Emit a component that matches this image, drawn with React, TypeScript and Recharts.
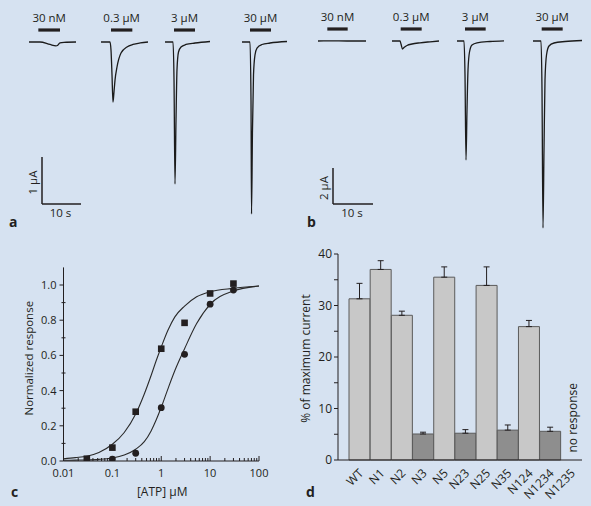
import React from 'react';
import {
  LineChart, Line, XAxis, YAxis, ReferenceLine, ReferenceDot,
  ComposedChart, Scatter, BarChart, Bar, Cell, ErrorBar,
} from 'recharts';

const FONT = '"Open Sans", "Noto Sans", "DejaVu Sans", sans-serif';
const INK = '#231f20';
const BG = '#d6e2f1';

// ---------------- Panel a (time s, current µA) ----------------
const aTrace30nM = [
  { t: 7.44, i: 0 }, { t: 10.26, i: 0 }, { t: 12.82, i: -0.053 }, { t: 14.36, i: -0.081 },
  { t: 14.74, i: -0.074 }, { t: 15.38, i: -0.017 }, { t: 16.41, i: -0.006 }, { t: 19.49, i: 0 },
];
const aTrace03uM = [
  { t: 25.9, i: 0 }, { t: 28.2, i: 0 }, { t: 28.46, i: -0.17 }, { t: 28.72, i: -0.7 },
  { t: 28.97, i: -1.277 }, { t: 29.23, i: -1.064 }, { t: 29.49, i: -0.81 }, { t: 30.0, i: -0.532 },
  { t: 31.03, i: -0.234 }, { t: 32.56, i: -0.106 }, { t: 34.1, i: -0.053 }, { t: 36.0, i: -0.02 },
  { t: 37.95, i: 0 },
];
const aTrace3uM = [
  { t: 42.31, i: 0 }, { t: 44.36, i: 0 }, { t: 44.62, i: -0.809 }, { t: 44.87, i: -3.021 },
  { t: 45.13, i: -1.66 }, { t: 45.38, i: -0.596 }, { t: 45.77, i: -0.213 }, { t: 46.41, i: -0.106 },
  { t: 47.69, i: -0.053 }, { t: 50.0, i: -0.021 }, { t: 53.85, i: 0.011 },
];
const aTrace30uM = [
  { t: 62.05, i: 0 }, { t: 64.1, i: 0 }, { t: 64.36, i: -1.234 }, { t: 64.49, i: -3.66 },
  { t: 64.74, i: -1.872 }, { t: 65.0, i: -0.702 }, { t: 65.38, i: -0.277 }, { t: 65.9, i: -0.128 },
  { t: 67.18, i: -0.053 }, { t: 69.23, i: -0.021 }, { t: 73.59, i: 0.011 },
];
const aApplications = [
  { label: '30 nM', t0: 9.83, t1: 15.38 },
  { label: '0.3 µM', t0: 28.46, t1: 33.93 },
  { label: '3 µM', t0: 44.62, t1: 50.0 },
  { label: '30 µM', t0: 64.1, t1: 69.49 },
];
const aBarLevel = 0.255;
const aScale = { t0: 10.77, i0: -3.447, dt: 10, di: 1, tLabel: '10 s', iLabel: '1 µA' };

// ---------------- Panel b ----------------
const bTrace30nM = [
  { t: 5.75, i: 0 }, { t: 9.0, i: 0.005 }, { t: 13.0, i: 0 }, { t: 17.75, i: 0 },
];
const bTrace03uM = [
  { t: 24.25, i: 0 }, { t: 26.25, i: 0 }, { t: 26.5, i: -0.167 }, { t: 26.875, i: -0.444 },
  { t: 27.25, i: -0.361 }, { t: 28.0, i: -0.25 }, { t: 29.25, i: -0.167 }, { t: 31.25, i: -0.1 },
  { t: 33.75, i: -0.044 }, { t: 36.0, i: 0 },
];
const bTrace3uM = [
  { t: 40.5, i: 0 }, { t: 42.25, i: 0 }, { t: 42.5, i: -1.889 }, { t: 42.75, i: -6.611 },
  { t: 43.0, i: -3.833 }, { t: 43.25, i: -1.611 }, { t: 43.625, i: -0.611 }, { t: 44.25, i: -0.222 },
  { t: 45.5, i: -0.1 }, { t: 48.75, i: -0.028 }, { t: 52.25, i: 0.011 },
];
const bTrace30uM = [
  { t: 59.5, i: 0 }, { t: 61.5, i: 0 }, { t: 61.75, i: -2.722 }, { t: 62.0, i: -10.389 },
  { t: 62.25, i: -6.056 }, { t: 62.5, i: -2.167 }, { t: 62.875, i: -0.778 }, { t: 63.5, i: -0.278 },
  { t: 64.75, i: -0.111 }, { t: 67.5, i: -0.028 }, { t: 71.75, i: 0.028 },
];
const bApplications = [
  { label: '30 nM', t0: 8.08, t1: 13.17 },
  { label: '0.3 µM', t0: 26.42, t1: 31.67 },
  { label: '3 µM', t0: 42.5, t1: 47.67 },
  { label: '30 µM', t0: 61.67, t1: 66.92 },
];
const bBarLevel = 0.667;
const bScale = { t0: 9.5, i0: -9.056, dt: 10, di: 2, tLabel: '10 s', iLabel: '2 µA' };

// ---------------- Panel c (concentration-response) ----------------
const cSquareX = [0.03, 0.1, 0.3, 1, 3, 10, 30];
const cSquareY = [0.013, 0.076, 0.28, 0.638, 0.785, 0.952, 1.008];
const cCircleX = [0.1, 0.3, 1, 3, 10, 30];
const cCircleY = [0.011, 0.044, 0.303, 0.606, 0.891, 0.971];
const cFitX = [0.01, 0.0175, 0.03, 0.053, 0.1, 0.175, 0.3, 0.45, 0.62, 0.79, 1, 1.37, 1.9, 3, 5.3, 10, 30, 100];
const cFitSquareY = [0.012, 0.019, 0.027, 0.048, 0.095, 0.162, 0.267, 0.381, 0.486, 0.571, 0.648, 0.743, 0.819, 0.88, 0.933, 0.962, 0.981, 0.994];
const cFitCircleY = [0.004, 0.005, 0.006, 0.009, 0.017, 0.034, 0.067, 0.11, 0.171, 0.234, 0.305, 0.41, 0.514, 0.638, 0.781, 0.89, 0.966, 0.994];
const cXTicks = [
  0.01, 0.02, 0.03, 0.04, 0.05, 0.06, 0.07, 0.08, 0.09,
  0.1, 0.2, 0.3, 0.4, 0.5, 0.6, 0.7, 0.8, 0.9,
  1, 2, 3, 4, 5, 6, 7, 8, 9,
  10, 20, 30, 40, 50, 60, 70, 80, 90, 100,
];
const cXMajor = [0.01, 0.1, 1, 10, 100];
const cYTicks = [0, 0.1, 0.2, 0.3, 0.4, 0.5, 0.6, 0.7, 0.8, 0.9, 1.0];
const cYMajor = [0, 0.2, 0.4, 0.6, 0.8, 1.0];

// ---------------- Panel d (mutants) ----------------
const dCategories = ['WT', 'N1', 'N2', 'N3', 'N5', 'N23', 'N25', 'N35', 'N124', 'N1234', 'N1235'];
const dValues = [31.3, 37.0, 28.1, 5.05, 35.5, 5.2, 33.9, 5.8, 25.9, 5.57, null];
const dErrors = [3.0, 1.7, 0.8, 0.35, 2.0, 0.7, 3.6, 1.0, 1.2, 0.8, null];
const dDark = [false, false, false, true, false, true, false, true, false, true, false];
const dYTicks = [0, 5, 10, 15, 20, 25, 30, 35, 40];

const toPts = (xs: number[], ys: number[]) => xs.map((x, k) => ({ x, y: ys[k] }));
const cSquares = toPts(cSquareX, cSquareY);
const cCircles = toPts(cCircleX, cCircleY);
const cFitSquares = toPts(cFitX, cFitSquareY);
const cFitCircles = toPts(cFitX, cFitCircleY);
const dData = dCategories.map((name, k) => ({
  name,
  value: dValues[k],
  err: dErrors[k] == null ? null : [0, dErrors[k]],
  dark: dDark[k],
}));

const textProps = { fill: INK, fontFamily: FONT };

const rotatedText = (text: string, x: number, y: number, size: number) => (
  <text x={x} y={y} transform={`rotate(-90 ${x} ${y})`} textAnchor="middle"
    dominantBaseline="central" fontSize={size} {...textProps}>{text}</text>
);

function TracePanel(props: any) {
  const { left, width, height, tMax, iMin, iMax, traces, apps, level, scale } = props;
  return (
    <div style={{ position: 'absolute', left, top: 0 }}>
      <LineChart width={width} height={height} margin={{ top: 0, right: 0, bottom: 0, left: 0 }}>
        <XAxis type="number" dataKey="t" domain={[0, tMax]} allowDataOverflow hide />
        <YAxis type="number" dataKey="i" domain={[iMin, iMax]} allowDataOverflow hide />
        {traces.map((tr: any[], k: number) => (
          <Line key={k} data={tr} dataKey="i" type="monotone" stroke="#1b1b1b"
            strokeWidth={1.3} dot={false} isAnimationActive={false} />
        ))}
        {apps.map((a: any) => (
          <ReferenceLine key={a.label} segment={[{ x: a.t0, y: level }, { x: a.t1, y: level }]}
            stroke={INK} strokeWidth={3.2}
            label={{ value: a.label, position: 'top', offset: 8, fontSize: 11.5, ...textProps }} />
        ))}
        <ReferenceLine
          segment={[{ x: scale.t0, y: scale.i0 + scale.di }, { x: scale.t0, y: scale.i0 }]}
          stroke={INK} strokeWidth={1.5}
          label={{
            content: (p: any) => rotatedText(scale.iLabel, p.viewBox.x - 9, p.viewBox.y + p.viewBox.height / 2 + 2, 11.5),
          }} />
        <ReferenceLine
          segment={[{ x: scale.t0, y: scale.i0 }, { x: scale.t0 + scale.dt, y: scale.i0 }]}
          stroke={INK} strokeWidth={1.5}
          label={{
            content: (p: any) => (
              <text x={p.viewBox.x + p.viewBox.width / 2 - 1} y={p.viewBox.y + 13} textAnchor="middle"
                fontSize={11.5} {...textProps}>{scale.tLabel}</text>
            ),
          }} />
      </LineChart>
    </div>
  );
}

const CXTick = (props: any) => {
  const { x, y, payload } = props;
  const major = cXMajor.includes(payload.value);
  return (
    <g>
      <line x1={x} x2={x} y1={y} y2={y - (major ? 5 : 3)} stroke={INK} strokeWidth={1} />
      {major && (
        <text x={x} y={y + 15.5} textAnchor="middle" fontSize={11} {...textProps}>{String(payload.value)}</text>
      )}
    </g>
  );
};

const CYTick = (props: any) => {
  const { x, y, payload } = props;
  const major = cYMajor.some((m) => Math.abs(m - payload.value) < 1e-6);
  return (
    <g>
      <line x1={major ? x - 4 : x - 2} x2={major ? x : x + 2} y1={y} y2={y} stroke={INK} strokeWidth={1} />
      {major && (
        <text x={x - 7} y={y + 4} textAnchor="end" fontSize={11} {...textProps}>{payload.value.toFixed(1)}</text>
      )}
    </g>
  );
};

const DXTick = (props: any) => {
  const { x, y, payload } = props;
  const ax = x + 4.5;
  const ay = y + 14;
  return (
    <text x={ax} y={ay} transform={`rotate(-45 ${ax} ${ay})`} textAnchor="end" fontSize={12} {...textProps}>
      {payload.value}
    </text>
  );
};

const DYTick = (props: any) => {
  const { x, y, payload } = props;
  if (payload.value % 10 !== 0) return <g />;
  return (
    <text x={x} y={y + 4} textAnchor="end" fontSize={12} {...textProps}>{payload.value}</text>
  );
};

const square = (p: any) => <rect x={p.cx - 3.3} y={p.cy - 3.3} width={6.6} height={6.6} fill={INK} />;
const circle = (p: any) => <circle cx={p.cx} cy={p.cy} r={3.4} fill={INK} />;

export default function App() {
  return (
    <div style={{ position: 'absolute', left: 0, top: 0, width: 591, height: 506, background: BG, overflow: 'hidden', fontFamily: FONT }}>
      <TracePanel left={0} width={295} height={240} tMax={295 / 3.9} iMin={-(240 - 42) / 47} iMax={42 / 47}
        traces={[aTrace30nM, aTrace03uM, aTrace3uM, aTrace30uM]} apps={aApplications} level={aBarLevel} scale={aScale} />
      <TracePanel left={295} width={296} height={240} tMax={296 / 4} iMin={-(240 - 41) / 18} iMax={41 / 18}
        traces={[bTrace30nM, bTrace03uM, bTrace3uM, bTrace30uM]} apps={bApplications} level={bBarLevel} scale={bScale} />

      {/* Panel c */}
      <div style={{ position: 'absolute', left: 0, top: 0 }}>
        <ComposedChart width={591} height={506} margin={{ top: 267.4, right: 332, bottom: 15, left: 23.5 }}>
          <XAxis type="number" dataKey="x" scale="log" domain={[0.01, 100]} allowDataOverflow
            ticks={cXTicks} interval={0} tickSize={0} tickMargin={0} height={30}
            axisLine={{ stroke: INK }} tick={<CXTick />}
            label={{
              content: (p: any) => (
                <text x={p.viewBox.x + p.viewBox.width / 2 + 1} y={p.viewBox.y + 35} textAnchor="middle"
                  fontSize={12} {...textProps}>[ATP] µM</text>
              ),
            }} />
          <YAxis type="number" dataKey="y" domain={[0, 1.1]} allowDataOverflow ticks={cYTicks} interval={0}
            tickSize={0} tickMargin={0} width={40} axisLine={{ stroke: INK }} tick={<CYTick />}
            label={{
              content: (p: any) => rotatedText('Normalized response', p.viewBox.x + 5.5, p.viewBox.y + p.viewBox.height / 2 - 6, 11.5),
            }} />
          <Line data={cFitSquares} dataKey="y" type="monotone" stroke="#2a2a2a" strokeWidth={1.1} dot={false} isAnimationActive={false} />
          <Line data={cFitCircles} dataKey="y" type="monotone" stroke="#2a2a2a" strokeWidth={1.1} dot={false} isAnimationActive={false} />
          <Scatter data={cSquares} dataKey="y" shape={square} isAnimationActive={false} />
          <Scatter data={cCircles} dataKey="y" shape={circle} isAnimationActive={false} />
        </ComposedChart>
      </div>

      {/* Panel d */}
      <div style={{ position: 'absolute', left: 0, top: 0 }}>
        <BarChart width={591} height={506} data={dData} margin={{ top: 254, right: 9, bottom: 6, left: 308 }}
          barCategoryGap={0} barGap={0}>
          <XAxis dataKey="name" interval={0} tickLine={false} tickSize={0} tickMargin={0} height={40}
            padding={{ left: 11, right: 0 }} axisLine={{ stroke: INK }} tick={<DXTick />} />
          <YAxis type="number" domain={[0, 40]} ticks={dYTicks} interval={0} width={30}
            tickSize={4} tickMargin={2} tickLine={{ stroke: INK }} axisLine={{ stroke: INK }} tick={<DYTick />}
            label={{
              content: (p: any) => rotatedText('% of maximum current', p.viewBox.x - 3, p.viewBox.y + p.viewBox.height / 2 + 1.5, 12),
            }} />
          <Bar dataKey="value" stroke="#5b5b5b" strokeWidth={1} isAnimationActive={false}>
            {dData.map((d, k) => (
              <Cell key={k} fill={d.dark ? '#8e8e8e' : '#c8c8c8'} />
            ))}
            <ErrorBar dataKey="err" width={3} stroke={INK} strokeWidth={1} direction="y" />
          </Bar>
          <ReferenceDot x="N1235" y={8.2} r={0} fill="none" stroke="none"
            label={{ content: (p: any) => rotatedText('no response', p.viewBox.x + 1, p.viewBox.y, 12) }} />
        </BarChart>
      </div>

      {/* Panel letters */}
      <svg width={591} height={506} style={{ position: 'absolute', left: 0, top: 0, pointerEvents: 'none' }}>
        <text x={9} y={227} fontSize={14} fontWeight="bold" {...textProps}>a</text>
        <text x={307} y={227} fontSize={14} fontWeight="bold" {...textProps}>b</text>
        <text x={11} y={497} fontSize={14} fontWeight="bold" {...textProps}>c</text>
        <text x={306} y={497} fontSize={14} fontWeight="bold" {...textProps}>d</text>
      </svg>
    </div>
  );
}
